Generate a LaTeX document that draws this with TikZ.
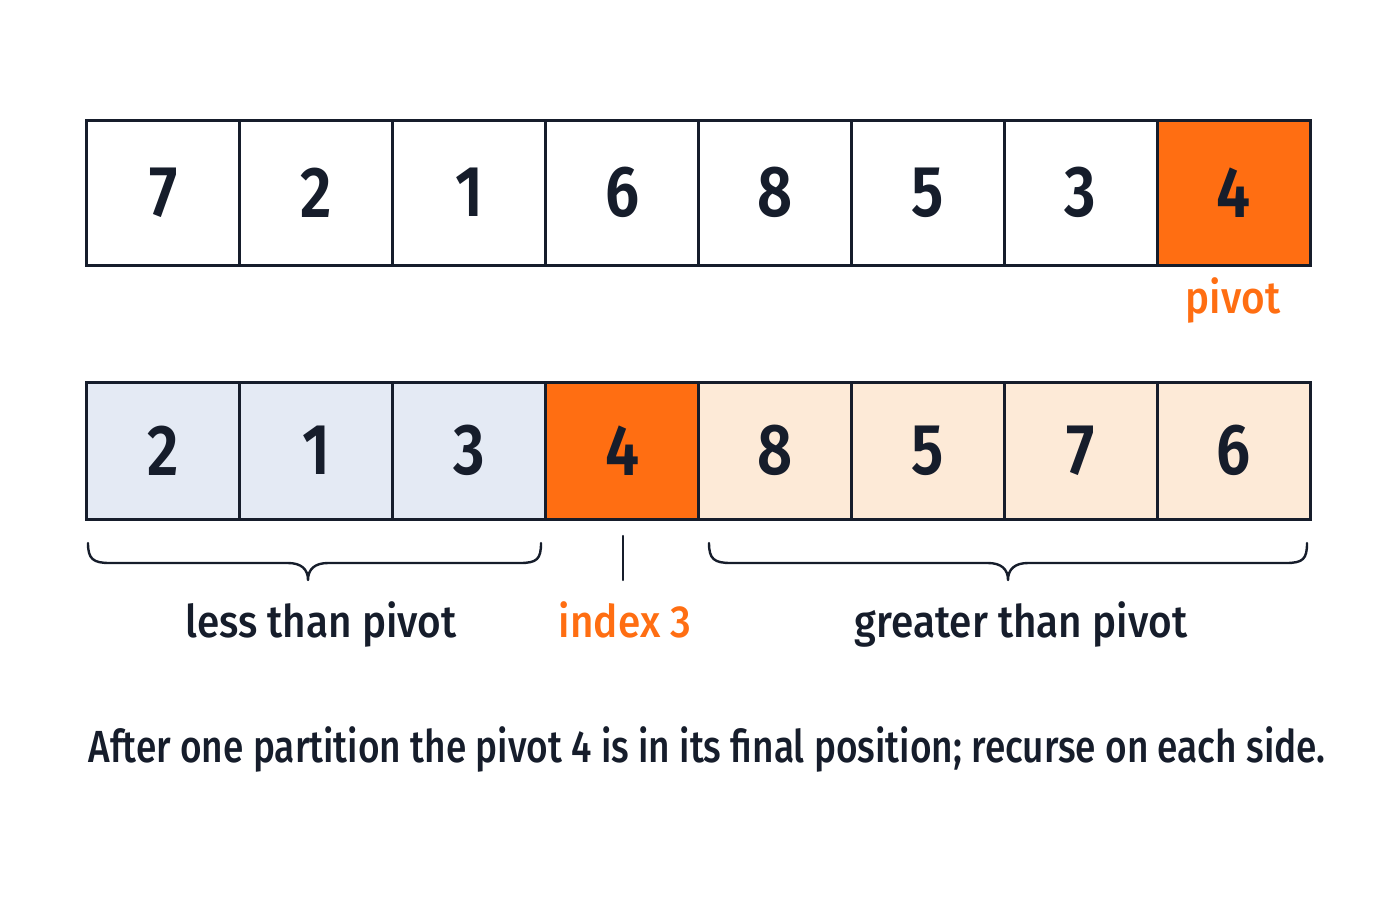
\documentclass[tikz,border=0pt]{standalone}
\usepackage{fontspec}
\setmainfont{Fira Sans}
\newfontfamily\numfont[FakeStretch=0.85]{Fira Sans SemiBold}
\newfontfamily\labfont[FakeStretch=0.90]{Fira Sans Medium}
\newfontfamily\capfont[FakeStretch=0.823]{Fira Sans Medium}
\definecolor{ink}{HTML}{161D2B}
\definecolor{orng}{HTML}{FF6E12}
\definecolor{lblue}{HTML}{E4EAF4}
\definecolor{peach}{HTML}{FDEAD7}
\tikzset{
  cell/.style={draw=ink, line width=1.5pt, minimum width=76.44pt, inner sep=0pt,
    font=\numfont\fontsize{36}{40}\selectfont, text=ink},
  toprow/.style={cell, minimum height=72.5pt},
  botrow/.style={cell, minimum height=68.5pt},
  lab/.style={font=\labfont\fontsize{22.5}{26}\selectfont, text=ink, anchor=base, inner sep=0pt},
  caplab/.style={lab, font=\capfont\fontsize{22.5}{26}\selectfont},
  brace/.style={draw=ink, line width=1.2pt, line cap=round, line join=round},
}
\begin{document}
\begin{tikzpicture}[x=0.5pt,y=-0.5pt]
\useasboundingbox (0,0) rectangle (1400,900);
% top row
\foreach \v [count=\i] in {7,2,1,6,8,5,3} {
  \node[toprow, fill=white] (t\i) at ({87+152.875*(\i-0.5)},192.5) {\v};
}
\node[toprow, fill=orng] (t8) at ({87+152.875*7.5},192.5) {4};
\node[lab, text=orng] (pivlab) at (1233,313) {pivot};
% bottom row
\foreach \v [count=\i] in {2,1,3} {
  \node[botrow, fill=lblue] (b\i) at ({87+152.875*(\i-0.5)},450.5) {\v};
}
\node[botrow, fill=orng] (b4) at ({87+152.875*3.5},450.5) {4};
\foreach \v [count=\i from 5] in {8,5,7,6} {
  \node[botrow, fill=peach] (b\i) at ({87+152.875*(\i-0.5)},450.5) {\v};
}
% braces
\draw[brace] (88,543) .. controls (88,559) and (93,563) .. (110,563)
  -- (288,563) .. controls (301,563) and (308,569) .. (308,580)
  .. controls (308,569) and (315,563) .. (328,563)
  -- (520,563) .. controls (537,563) and (541,559) .. (541,543);
\coordinate (tickt) at (623,536);
\coordinate (tickb) at (623,580);
\draw[brace] (tickt) -- (tickb);
\draw[brace] (709,543) .. controls (709,559) and (714,563) .. (731,563)
  -- (988,563) .. controls (1001,563) and (1008,569) .. (1008,580)
  .. controls (1008,569) and (1015,563) .. (1028,563)
  -- (1286,563) .. controls (1303,563) and (1307,559) .. (1307,543);
% labels
\node[lab] (less) at (321,637) {less than pivot};
\node[lab, text=orng] (idx) at (625,637) {index 3};
\node[lab] (greater) at (1021,637) {greater than pivot};
\node[caplab] (caption) at (707,762) {After one partition the pivot 4 is in its final position; recurse on each side.};
\end{tikzpicture}
\end{document}
